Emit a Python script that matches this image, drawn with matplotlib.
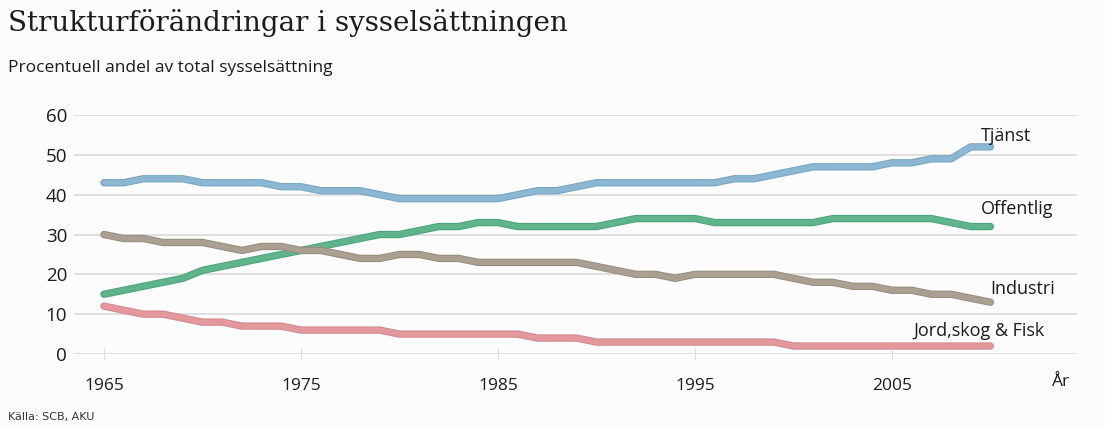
import matplotlib
matplotlib.use("Agg")
import matplotlib.pyplot as plt
import matplotlib.patheffects as pe

years = list(range(1965, 2011))
tjanst = [43, 43, 44, 44, 44, 43, 43, 43, 43, 42, 42, 41, 41, 41, 40, 39,
          39, 39, 39, 39, 39, 40, 41, 41, 42, 43, 43, 43, 43, 43, 43, 43,
          44, 44, 45, 46, 47, 47, 47, 47, 48, 48, 49, 49, 52, 52]
offentlig = [15, 16, 17, 18, 19, 21, 22, 23, 24, 25, 26, 27, 28, 29, 30, 30,
             31, 32, 32, 33, 33, 32, 32, 32, 32, 32, 33, 34, 34, 34, 34, 33,
             33, 33, 33, 33, 33, 34, 34, 34, 34, 34, 34, 33, 32, 32]
industri = [30, 29, 29, 28, 28, 28, 27, 26, 27, 27, 26, 26, 25, 24, 24, 25,
            25, 24, 24, 23, 23, 23, 23, 23, 23, 22, 21, 20, 20, 19, 20, 20,
            20, 20, 20, 19, 18, 18, 17, 17, 16, 16, 15, 15, 14, 13]
jord = [12, 11, 10, 10, 9, 8, 8, 7, 7, 7, 6, 6, 6, 6, 6, 5,
        5, 5, 5, 5, 5, 5, 4, 4, 4, 3, 3, 3, 3, 3, 3, 3,
        3, 3, 3, 2, 2, 2, 2, 2, 2, 2, 2, 2, 2, 2]

series_names = ["Tjänst", "Offentlig", "Industri", "Jord,skog & Fisk"]
series_values = [tjanst, offentlig, industri, jord]
colors = ["#8cb7d3", "#5fb48c", "#aa9f91", "#e2999e"]
edge_colors = ["#76a5c4", "#4aa57b", "#998d7f", "#d6888e"]
label_pos = [(2009.5, 54.8), (2009.5, 36.3), (2010.0, 16.3), (2006.1, 5.8)]
x_ticks = [1965, 1975, 1985, 1995, 2005]
y_ticks = [0, 10, 20, 30, 40, 50, 60]

sans = ["Open Sans", "DejaVu Sans"]
ink = "#1c1c1c"
bg = "#fcfcfc"
fig = plt.figure(figsize=(11.05, 4.26), dpi=100, facecolor=bg)
ax = fig.add_axes([0.067, 0.169, 0.9077, 0.561], facecolor=bg)

for name, vals, c, ec, (lx, ly) in zip(series_names, series_values, colors, edge_colors, label_pos):
    ax.plot(years, vals, color=c, lw=3.8, solid_capstyle="round", solid_joinstyle="round",
            path_effects=[pe.Stroke(linewidth=5.3, foreground=ec), pe.Normal()], zorder=3)
    ax.text(lx, ly, name, fontsize=13, family=sans, color=ink,
            ha="left", va="center", zorder=4)

ax.set_xlim(1963.48, 2014.4)
ax.set_ylim(0, 60)
ax.set_yticks(y_ticks)
ax.set_xticks(x_ticks)
ax.set_yticklabels([str(v) for v in y_ticks], fontsize=13.5, color=ink, family=sans)
ax.set_xticklabels([str(v) for v in x_ticks], fontsize=12.5, color=ink, family=sans)
ax.grid(axis="y", color="#dedede", lw=1.3)
ax.set_axisbelow(True)
for s in ax.spines.values():
    s.set_visible(False)
ax.tick_params(axis="y", length=0, pad=5)
ax.tick_params(axis="x", length=8, color="#dddddd", pad=13, direction="inout")

ax.text(0.993, -0.118, "År", transform=ax.transAxes, fontsize=12.5, color=ink,
        ha="right", va="center", family=sans)

fig.text(0.007, 0.945, "Strukturförändringar i sysselsättningen", fontsize=20,
         family="DejaVu Serif", color=ink, ha="left", va="center")
fig.text(0.007, 0.84, "Procentuell andel av total sysselsättning", fontsize=12.5,
         family=sans, color=ink, ha="left", va="center")
fig.text(0.007, 0.02, "Källa: SCB, AKU", fontsize=8, family="DejaVu Sans",
         color="#333333", ha="left", va="center")

fig.savefig("out.png", dpi=100, facecolor=bg)
